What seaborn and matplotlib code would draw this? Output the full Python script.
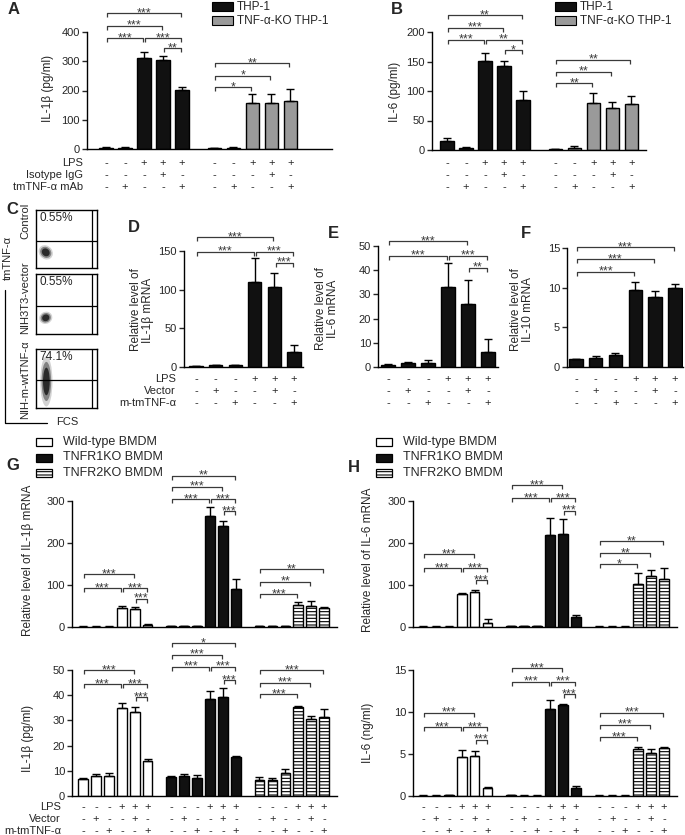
import numpy as np
import pandas as pd
import matplotlib
matplotlib.use('Agg')
import matplotlib.pyplot as plt
import seaborn as sns
from matplotlib.patches import Rectangle, Ellipse
from matplotlib.transforms import blended_transform_factory

# ---------------- data ----------------
# Panel A  IL-1b (pg/ml)
A_thp1 = [5, 5, 312, 303, 202]
A_thp1_err = [1, 1, 18, 14, 10]
A_ko = [3, 5, 157, 157, 165]
A_ko_err = [1, 1, 30, 30, 40]
# Panel B  IL-6 (pg/ml)
B_thp1 = [15, 3, 151, 143, 85]
B_thp1_err = [5, 2, 14, 8, 15]
B_ko = [1, 4, 80, 71, 78]
B_ko_err = [0.5, 3, 16, 10, 14]
AB_lps = ['-', '-', '+', '+', '+']
AB_igg = ['-', '-', '-', '+', '-']
AB_mab = ['-', '+', '-', '-', '+']
AB_row_labels = ['LPS', 'Isotype IgG', 'tmTNF-α mAb']

# Panels D-F  relative mRNA
D_vals = [1, 2, 2, 110, 104, 20]
D_err = [0.3, 0.5, 0.5, 31, 18, 8]
E_vals = [1, 1.5, 1.7, 33, 26, 6]
E_err = [0.2, 0.7, 1.0, 10, 10, 5.4]
F_vals = [1, 1.15, 1.5, 9.7, 8.8, 9.9]
F_err = [0.05, 0.25, 0.25, 1.0, 0.8, 0.6]
DF_lps = ['-', '-', '-', '+', '+', '+']
DF_vec = ['-', '+', '-', '-', '+', '-']
DF_tm = ['-', '-', '+', '-', '-', '+']
DF_row_labels = ['LPS', 'Vector', 'm-tmTNF-α']

# Panel C flow cytometry
C_pct = ['0.55%', '0.55%', '74.1%']
C_names = ['Control', 'NIH3T3-vector', 'NIH-m-wtTNF-α']

# Panel G (IL-1b) and H (IL-6); groups WT, TNFR1KO, TNFR2KO
G_names = ['Wild-type BMDM', 'TNFR1KO BMDM', 'TNFR2KO BMDM']
G_mrna = [[1, 1, 1, 45, 43, 5], [2, 3, 2, 265, 240, 90], [2, 2, 2, 52, 50, 45]]
G_mrna_err = [[0.3, 0.3, 0.3, 6, 5, 1], [0.5, 0.5, 0.5, 20, 12, 24], [0.5, 0.5, 0.5, 8, 11, 3]]
G_prot = [[6.6, 8, 8, 35, 33.3, 14], [7.5, 8, 7, 38.5, 39.3, 15.5], [6.5, 6.3, 9.3, 35.3, 30.6, 31.2]]
G_prot_err = [[0.5, 0.9, 1.3, 2, 2.2, 0.8], [0.3, 0.8, 1.2, 3, 3.7, 0.3], [1, 1, 1.5, 0.6, 1.2, 3.5]]
H_mrna = [[1, 1, 1, 78, 84, 10], [2, 2, 2, 219, 221, 24], [1, 1, 1, 102, 122, 114]]
H_mrna_err = [[0.3, 0.3, 0.3, 2, 3, 8], [0.5, 0.5, 0.5, 40, 36, 4], [0.3, 0.3, 0.3, 26, 13, 26]]
H_prot = [[0.05, 0.05, 0.08, 4.7, 4.8, 1.0], [0.1, 0.05, 0.05, 10.4, 10.8, 1.0], [0.05, 0.05, 0.05, 5.6, 5.1, 5.7]]
H_prot_err = [[0.02, 0.02, 0.02, 0.8, 0.6, 0.1], [0.05, 0.02, 0.02, 1.0, 0.2, 0.25], [0.02, 0.02, 0.02, 0.2, 0.5, 0.1]]

# significance brackets: (bar i, bar j, height in data units, label)
A_sig = [(0, 2, 379, '***'), (2, 4, 379, '***'), (3, 4, 345, '**'), (0, 3, 422, '***'),
         (0, 4, 465, '***'), (5, 7, 211, '*'), (5, 8, 251, '*'), (5, 9, 294, '**')]
B_sig = [(0, 2, 187, '***'), (2, 4, 187, '**'), (3, 4, 169, '*'), (0, 3, 207, '***'),
         (0, 4, 228, '**'), (5, 7, 113, '**'), (5, 8, 133, '**'), (5, 9, 153, '**')]
D_sig = [(0, 3, 149, '***'), (3, 5, 149, '***'), (4, 5, 135, '***'), (0, 4, 168, '***')]
E_sig = [(0, 3, 46, '***'), (3, 5, 46, '***'), (4, 5, 41, '**'), (0, 4, 52, '***')]
F_sig = [(0, 3, 12.0, '***'), (0, 4, 13.6, '***'), (0, 5, 15.1, '***')]
G1_sig = [(0, 3, 93, '***'), (3, 5, 93, '***'), (4, 5, 67, '***'), (0, 4, 126, '***'),
          (6, 9, 305, '***'), (9, 11, 305, '***'), (10, 11, 276, '***'), (6, 10, 334, '***'),
          (6, 11, 360, '**'), (12, 15, 78, '***'), (12, 16, 108, '**'), (12, 17, 138, '**')]
G2_sig = [(0, 3, 44.3, '***'), (3, 5, 44.3, '***'), (4, 5, 39.2, '***'), (0, 4, 50, '***'),
          (6, 9, 51.3, '***'), (9, 11, 51.3, '***'), (10, 11, 46, '***'), (6, 10, 56, '***'),
          (6, 11, 60.6, '*'), (12, 15, 40.4, '***'), (12, 16, 44.9, '***'), (12, 17, 50, '***')]
H1_sig = [(0, 3, 140, '***'), (3, 5, 140, '***'), (4, 5, 112, '***'), (0, 4, 174, '***'),
          (6, 9, 306, '***'), (9, 11, 306, '***'), (10, 11, 277, '***'), (6, 10, 338, '***'),
          (12, 15, 149, '*'), (12, 16, 176, '**'), (12, 17, 205, '**')]
H2_sig = [(0, 3, 8.2, '***'), (3, 5, 8.2, '***'), (4, 5, 6.7, '***'), (0, 4, 9.9, '***'),
          (6, 9, 13.6, '***'), (9, 11, 13.6, '***'), (10, 11, 12.1, '***'), (6, 10, 15.2, '***'),
          (12, 15, 7.0, '***'), (12, 16, 8.5, '***'), (12, 17, 9.9, '***')]

# ---------------- style ----------------
sns.set_style('ticks')
plt.rcParams['font.family'] = ['Liberation Sans', 'DejaVu Sans']
plt.rcParams['hatch.linewidth'] = 0.8
plt.rcParams['axes.linewidth'] = 1.0
plt.rcParams['axes.edgecolor'] = 'black'

W, H = 685, 835
fig = plt.figure(figsize=(W / 100, H / 100), dpi=100)
ov = fig.add_axes([0, 0, 1, 1])
ov.set_xlim(0, W)
ov.set_ylim(H, 0)
ov.axis('off')

FS = 8
BR = '#3a3a3a'
GRAY = '#9a9a9a'


def make_ax(x0, x1, ytop, ybot):
    return fig.add_axes([x0 / W, 1 - ybot / H, (x1 - x0) / W, (ybot - ytop) / H])


def bars(ax, pos, vals, errs, color, hatch=None, width=0.7):
    df = pd.DataFrame({'x': pos, 'y': vals})
    n0 = len(ax.patches)
    sns.barplot(data=df, x='x', y='y', native_scale=True, color=color, width=width,
                edgecolor='black', linewidth=1.0, errorbar=None, saturation=1, ax=ax)
    if hatch:
        for p in ax.patches[n0:]:
            p.set_hatch(hatch)
    ax.errorbar(pos, vals, yerr=[np.zeros(len(errs)), errs], fmt='none', ecolor='black',
                elinewidth=1.0, capsize=2.8, capthick=1.0, zorder=5)


def style(ax, xlim, ymax, yticks):
    ax.set_xlim(*xlim)
    ax.set_ylim(0, ymax)
    ax.set_xticks([])
    ax.set_yticks(yticks)
    ax.set_xlabel('')
    ax.set_ylabel('')
    for s in ['top', 'right']:
        ax.spines[s].set_visible(False)
    ax.tick_params(axis='y', labelsize=FS, length=3.5, width=1.0, pad=1.5)


def brackets(ax, pos, sig, fs=9):
    y0, y1 = ax.get_ylim()
    hpx = ax.get_position().height * H
    tick = 4.0 * (y1 - y0) / hpx
    for i, j, y, lab in sig:
        xa, xb = pos[i] + 0.06, pos[j] - 0.06
        ax.plot([xa, xa, xb, xb], [y - tick, y, y, y - tick], color=BR, lw=0.9,
                clip_on=False, solid_capstyle='butt')
        ax.annotate(lab, xy=((xa + xb) / 2, y), xytext=(0, -2.2), textcoords='offset points',
                    ha='center', va='baseline', fontsize=fs, color=BR, annotation_clip=False)


def sign_rows(ax, pos, rows, ys, fs=FS):
    tr = blended_transform_factory(ax.transData, ov.transData)
    for row, y in zip(rows, ys):
        for p, s in zip(pos, row):
            ax.text(p, y, '-' if s == '-' else s, transform=tr, ha='center', va='center',
                    fontsize=fs, clip_on=False)


def row_labels(labels, x, ys):
    for lab, y in zip(labels, ys):
        ov.text(x, y, lab, ha='right', va='center', fontsize=FS)


def letter(ch, x, y):
    ov.text(x, y, ch, ha='left', va='center', fontsize=12, fontweight='bold')


# ---------------- Panel A ----------------
gap = 5.7
posA1 = [0, 1, 2, 3, 4]
posA2 = [p + gap for p in posA1]
posA = posA1 + posA2
axA = make_ax(87, 332, 32, 149)
bars(axA, posA1, A_thp1, A_thp1_err, '#111111')
bars(axA, posA2, A_ko, A_ko_err, GRAY)
style(axA, (-1.0, 11.9), 400, [0, 100, 200, 300, 400])
brackets(axA, posA, A_sig)
sign_rows(axA, posA, [AB_lps * 2, AB_igg * 2, AB_mab * 2], [163, 175, 187])
row_labels(AB_row_labels, 83, [163, 175, 187])
ov.text(48, 88, 'IL-1β (pg/ml)', rotation=90, ha='center', va='center', fontsize=FS + 0.5)
letter('A', 8, 10)
ov.add_patch(Rectangle((212, 2), 21, 9, facecolor='#111111', edgecolor='black', lw=0.8))
ov.add_patch(Rectangle((212, 16), 21, 9, facecolor=GRAY, edgecolor='black', lw=0.8))
ov.text(237, 6.5, 'THP-1', va='center', fontsize=FS + 0.5)
ov.text(237, 20.5, 'TNF-α-KO THP-1', va='center', fontsize=FS + 0.5)

# ---------------- Panel B ----------------
axB = make_ax(432, 646, 32, 150)
bars(axB, posA1, B_thp1, B_thp1_err, '#111111')
bars(axB, posA2, B_ko, B_ko_err, GRAY)
style(axB, (-0.79, 10.47), 200, [0, 50, 100, 150, 200])
brackets(axB, posA, B_sig)
sign_rows(axB, posA, [AB_lps * 2, AB_igg * 2, AB_mab * 2], [163, 175, 187])
ov.text(395, 92, 'IL-6 (pg/ml)', rotation=90, ha='center', va='center', fontsize=FS + 0.5)
letter('B', 391, 10)
ov.add_patch(Rectangle((555, 2), 21, 9, facecolor='#111111', edgecolor='black', lw=0.8))
ov.add_patch(Rectangle((555, 16), 21, 9, facecolor=GRAY, edgecolor='black', lw=0.8))
ov.text(580, 6.5, 'THP-1', va='center', fontsize=FS + 0.5)
ov.text(580, 20.5, 'TNF-α-KO THP-1', va='center', fontsize=FS + 0.5)

# ---------------- Panel C ----------------
letter('C', 6, 210)
C_boxes = [(210, 268), (274, 334), (349, 408)]
C_clouds = [((0.16, 0.27), 0.22, 0.26, 35), ((0.16, 0.27), 0.22, 0.2, 30), ((0.17, 0.45), 0.2, 0.85, 0)]
C_name_y = [221, 298, 380]
for (yt, yb), pct, nm, (cxy, cw, ch, ang), ny in zip(C_boxes, C_pct, C_names, C_clouds, C_name_y):
    axc = make_ax(36, 97, yt, yb)
    axc.set_xlim(0, 1)
    axc.set_ylim(0, 1)
    axc.set_xticks([])
    axc.set_yticks([])
    for s in axc.spines.values():
        s.set_linewidth(1.0)
    axc.axhline(0.47, color='black', lw=0.9)
    axc.axvline(0.92, color='black', lw=0.9)
    for sc, col, al in [(1.0, '#c8c8c8', 0.8), (0.78, '#7a7a7a', 0.9), (0.55, '#2a2a2a', 1.0)]:
        axc.add_patch(Ellipse(cxy, cw * sc, ch * sc, angle=ang, facecolor=col, edgecolor='none', alpha=al))
    axc.text(0.05, 0.86, pct, ha='left', va='center', fontsize=FS + 0.5)
    ov.text(25, ny, nm, rotation=90, ha='center', va='center', fontsize=FS)
ov.text(8, 258, 'tmTNF-α', rotation=90, ha='center', va='center', fontsize=FS)
ov.plot([5, 5, 47], [290, 423, 423], color='black', lw=0.9)
ov.text(56, 422, 'FCS', ha='left', va='center', fontsize=FS)

# ---------------- Panels D, E, F ----------------
posDF = [0, 1, 2, 3, 4, 5]
axD = make_ax(184, 303, 251, 367)
bars(axD, posDF, D_vals, D_err, '#111111', width=0.68)
style(axD, (-0.61, 5.46), 150, [0, 50, 100, 150])
brackets(axD, posDF, D_sig)
sign_rows(axD, posDF, [DF_lps, DF_vec, DF_tm], [379, 391, 403])
row_labels(DF_row_labels, 176, [379, 391, 403])
ov.text(142, 310, 'Relative level of\nIL-1β mRNA', rotation=90, ha='center', va='center',
        fontsize=FS + 0.5, linespacing=1.0)
letter('D', 128, 228)

axE = make_ax(378, 498, 246, 367)
bars(axE, posDF, E_vals, E_err, '#111111', width=0.68)
style(axE, (-0.5, 5.5), 50, [0, 10, 20, 30, 40, 50])
brackets(axE, posDF, E_sig)
sign_rows(axE, posDF, [DF_lps, DF_vec, DF_tm], [379, 391, 403])
ov.text(327, 309, 'Relative level of\nIL-6 mRNA', rotation=90, ha='center', va='center',
        fontsize=FS + 0.5, linespacing=1.0)
letter('E', 328, 233)

axF = make_ax(567, 683, 248, 367)
bars(axF, posDF, F_vals, F_err, '#111111', width=0.68)
style(axF, (-0.45, 5.41), 15, [0, 5, 10, 15])
brackets(axF, posDF, F_sig)
sign_rows(axF, posDF, [DF_lps, DF_vec, DF_tm], [379, 391, 403])
ov.text(522, 310, 'Relative level of\nIL-10 mRNA', rotation=90, ha='center', va='center',
        fontsize=FS + 0.5, linespacing=1.0)
letter('F', 521, 233)

# ---------------- Panels G, H ----------------
ggap = 6.8
posG = [g * ggap + i for g in range(3) for i in range(6)]
fills = [('white', None), ('#111111', None), ('white', '-----')]


def grouped(ax, vals, errs):
    for g, (col, hatch) in enumerate(fills):
        bars(ax, posG[g * 6:(g + 1) * 6], vals[g], errs[g], col, hatch=hatch, width=0.72)


def bmdm_legend(x, y):
    for k, (nm, (col, hatch)) in enumerate(zip(G_names, fills)):
        yy = y + k * 15.5
        ov.add_patch(Rectangle((x, yy - 4), 16, 8, facecolor=col, edgecolor='black', lw=0.9, hatch=hatch))
        ov.text(x + 27, yy, nm, va='center', fontsize=FS + 1)


# G top
axG1 = make_ax(72, 337, 501, 627)
grouped(axG1, G_mrna, G_mrna_err)
style(axG1, (-0.85, 19.6), 300, [0, 100, 200, 300])
brackets(axG1, posG, G1_sig)
ov.text(28, 560, 'Relative level of IL-1β mRNA', rotation=90, ha='center', va='center', fontsize=FS + 0.5)
# G bottom
axG2 = make_ax(72, 337, 670, 796)
grouped(axG2, G_prot, G_prot_err)
style(axG2, (-0.85, 19.6), 50, [0, 10, 20, 30, 40, 50])
brackets(axG2, posG, G2_sig)
sign_rows(axG2, posG, [DF_lps * 3, DF_vec * 3, DF_tm * 3], [807, 819, 831])
row_labels(DF_row_labels, 61, [807, 819, 831])
ov.text(28, 738, 'IL-1β (pg/ml)', rotation=90, ha='center', va='center', fontsize=FS + 0.5)
letter('G', 6, 465)
bmdm_legend(36, 442)

# H top
axH1 = make_ax(413, 677, 501, 627)
grouped(axH1, H_mrna, H_mrna_err)
style(axH1, (-0.77, 19.6), 300, [0, 100, 200, 300])
brackets(axH1, posG, H1_sig)
ov.text(368, 560, 'Relative level of IL-6 mRNA', rotation=90, ha='center', va='center', fontsize=FS + 0.5)
# H bottom
axH2 = make_ax(413, 677, 670, 796)
grouped(axH2, H_prot, H_prot_err)
style(axH2, (-0.77, 19.6), 15, [0, 5, 10, 15])
brackets(axH2, posG, H2_sig)
sign_rows(axH2, posG, [DF_lps * 3, DF_vec * 3, DF_tm * 3], [807, 819, 831])
ov.text(368, 733, 'IL-6 (ng/ml)', rotation=90, ha='center', va='center', fontsize=FS + 0.5)
letter('H', 348, 467)
bmdm_legend(376, 442)

fig.savefig('out.png', dpi=100)
